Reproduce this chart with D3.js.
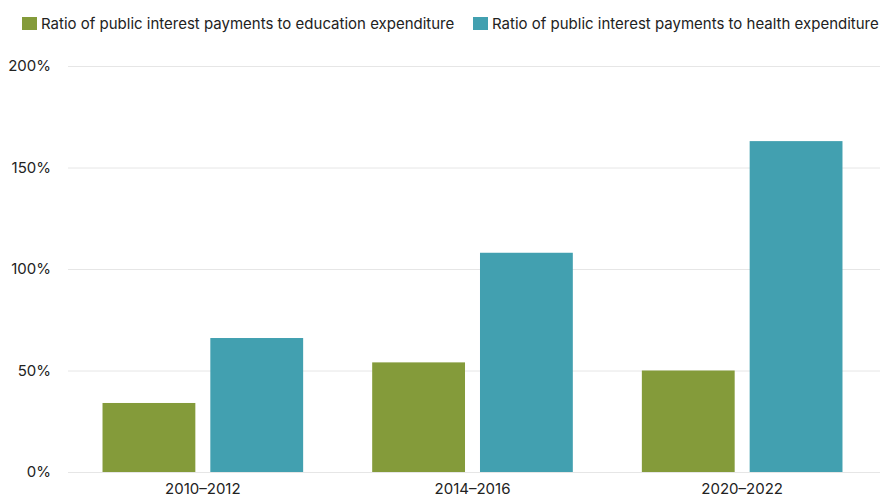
<!DOCTYPE html>
<html>
<head>
<meta charset="utf-8">
<script src="https://cdn.jsdelivr.net/npm/d3@7"></script>
<style>
  html, body { margin: 0; padding: 0; background: #fff; }
  svg { display: block; font-family: Inter, "Open Sans", sans-serif; }
</style>
</head>
<body>
<svg id="chart" width="880" height="496"></svg>
<script>
// Periods on the x axis
const periods = ["2010–2012", "2014–2016", "2020–2022"];
// Series names shown in the legend
const seriesNames = [
  "Ratio of public interest payments to education expenditure",
  "Ratio of public interest payments to health expenditure"
];
// Values in percent, one per period
const educationRatio = [34, 54, 50];
const healthRatio = [66, 108, 163];
// Y axis ticks
const yTicks = [0, 50, 100, 150, 200];

const colors = ["#849b3a", "#42a0b0"];
const seriesValues = [educationRatio, healthRatio];

const svg = d3.select("#chart");
const margin = { left: 68, right: 3, top: 66, bottom: 24 };
const width = 880, height = 496;

const y = d3.scaleLinear().domain([0, 200]).range([472, 66]);
const x0 = d3.scaleBand().domain(periods).range([68, 877])
  .paddingInner(0.256).paddingOuter(0.128);
const x1 = d3.scaleBand().domain(d3.range(seriesNames.length))
  .range([0, x0.bandwidth()]).paddingInner(0.139).paddingOuter(0);

// Gridlines and y labels
const yAxis = d3.axisLeft(y).tickValues(yTicks).tickFormat(d => d + "%")
  .tickSize(-(880 - 68)).tickPadding(17);
const gy = svg.append("g").attr("transform", "translate(68,0)").call(yAxis);
gy.select(".domain").remove();
gy.selectAll(".tick line").attr("stroke", "#e6e6e6").attr("stroke-width", 1);
gy.selectAll(".tick text").attr("fill", "#222").style("font-size", "15px")
  .style("font-family", "Inter, sans-serif");

// Bars
const groups = svg.append("g").selectAll("g")
  .data(periods).join("g")
  .attr("transform", d => `translate(${x0(d)},0)`);
groups.selectAll("rect")
  .data((d, i) => seriesValues.map((vals, s) => ({ s, v: vals[i] })))
  .join("rect")
  .attr("x", d => x1(d.s))
  .attr("width", x1.bandwidth())
  .attr("y", d => y(d.v))
  .attr("height", d => y(0) - y(d.v))
  .attr("fill", d => colors[d.s]);

// X axis labels
const xAxis = d3.axisBottom(x0).tickSize(0).tickPadding(11);
const gx = svg.append("g").attr("transform", "translate(0,472)").call(xAxis);
gx.select(".domain").remove();
gx.selectAll(".tick text").attr("fill", "#222").style("font-size", "15px")
  .style("font-family", "Inter, sans-serif");

// Legend
const legendX = [22, 473];
const legend = svg.append("g");
seriesNames.forEach((name, i) => {
  legend.append("rect").attr("x", legendX[i]).attr("y", 17)
    .attr("width", 15).attr("height", 13).attr("fill", colors[i]);
  legend.append("text").attr("x", legendX[i] + 19).attr("y", 29)
    .attr("fill", "#222").style("font-size", "15px").text(name);
});
</script>
</body>
</html>
